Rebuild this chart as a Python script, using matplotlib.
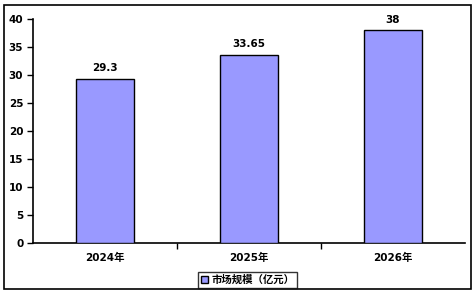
import matplotlib
matplotlib.use("Agg")
import matplotlib.pyplot as plt
from matplotlib.patches import Rectangle

plt.rcParams['font.family'] = ['DejaVu Sans', 'Noto Sans CJK SC']

categories = ["2024年", "2025年", "2026年"]
values = [29.3, 33.65, 38]
labels = ["29.3", "33.65", "38"]
series_name = "市场规模（亿元）"
yticks = [0, 5, 10, 15, 20, 25, 30, 35, 40]

W, H = 475, 294
fig = plt.figure(figsize=(W/100, H/100), dpi=100)
ax = fig.add_axes([33/W, 1-243/H, (465-33)/W, (243-19)/H])

x = list(range(len(categories)))
bars = ax.bar(x, values, width=0.4, color="#9999FF", edgecolor="black", linewidth=1.0,
              label=series_name, zorder=3)
for xi, v, lab in zip(x, values, labels):
    ax.annotate(lab, (xi, v), xytext=(0, 4), textcoords="offset points",
                ha="center", va="bottom", fontsize=7.5, fontweight="bold")

ax.set_xlim(-0.5, 2.5)
ax.set_ylim(0, 40)
ax.set_yticks(yticks)
ax.set_yticklabels([str(t) for t in yticks], fontsize=7.5, fontweight="bold")
ax.set_xticks(x)
ax.set_xticklabels(categories, fontsize=7.5, fontweight="bold")
ax.tick_params(axis="x", which="major", length=0, pad=7)
ax.set_xticks([0.5, 1.5], minor=True)
ax.tick_params(axis="x", which="minor", length=4, width=1, direction="out")
ax.tick_params(axis="y", length=4, width=1, direction="out", pad=3)
for s in ["top", "right"]:
    ax.spines[s].set_visible(False)
for s in ["left", "bottom"]:
    ax.spines[s].set_linewidth(1.2)

leg = fig.legend(handles=[bars], labels=[series_name], loc="center",
                 bbox_to_anchor=(247.5/W, 1-280/H), frameon=True,
                 fancybox=False, edgecolor="black", handlelength=0.7, handleheight=0.7,
                 handletextpad=0.3, borderpad=0.25, prop={'weight': 'bold', 'size': 7.5,
                                                          'family': ['DejaVu Sans', 'Noto Sans CJK SC']})
leg.get_frame().set_linewidth(1.0)

fig.patches.append(Rectangle((4/W, 5/H), (471-4)/W, (289-5)/H, transform=fig.transFigure,
                             fill=False, edgecolor="black", linewidth=1.2))

fig.savefig("out.png", dpi=100)
